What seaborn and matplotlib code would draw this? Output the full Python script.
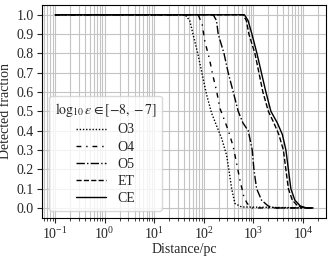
import numpy as np
import pandas as pd
import matplotlib
matplotlib.use("Agg")
import matplotlib.pyplot as plt
import seaborn as sns

# detection fraction vs distance
o3_dist = [0.1, 42, 52, 61, 77, 93, 114, 144, 168, 229, 288, 325, 364, 424, 578, 16000]
o3_frac = [1.0, 1.0, 0.97, 0.896, 0.79, 0.69, 0.585, 0.49, 0.446, 0.36, 0.273, 0.187, 0.10, 0.023, 0.005, 0.0]

o4_dist = [0.1, 77, 93, 105, 129, 151, 182, 211, 310, 392, 459, 535, 643, 750, 930, 16000]
o4_frac = [1.0, 1.0, 0.948, 0.861, 0.775, 0.689, 0.602, 0.516, 0.403, 0.317, 0.23, 0.144, 0.057, 0.023, 0.0, 0.0]

o5_dist = [0.1, 155, 180, 195, 255, 310, 392, 494, 614, 785, 946, 1023, 1159, 1462, 1986, 2690, 16000]
o5_frac = [1.0, 1.0, 0.97, 0.9, 0.8, 0.7, 0.6, 0.5, 0.44, 0.4, 0.3, 0.2, 0.1, 0.04, 0.01, 0.0, 0.0]

et_dist = [0.1, 618, 720, 811, 1072, 1291, 1552, 2004, 2588, 3258, 4018, 4508, 5070, 6095, 7870, 11000, 16000]
et_frac = [1.0, 1.0, 0.97, 0.9, 0.8, 0.7, 0.6, 0.5, 0.44, 0.38, 0.3, 0.2, 0.1, 0.04, 0.01, 0.0, 0.0]

ce_dist = [0.1, 658, 780, 933, 1178, 1449, 1786, 2254, 3041, 3837, 4519, 5070, 5689, 6855, 8850, 11750, 16000]
ce_frac = [1.0, 1.0, 0.97, 0.9, 0.8, 0.7, 0.6, 0.5, 0.44, 0.38, 0.3, 0.2, 0.1, 0.04, 0.01, 0.0, 0.0]

detectors = ["O3", "O4", "O5", "ET", "CE"]

frames = []
for name, d, f in zip(detectors,
                      [o3_dist, o4_dist, o5_dist, et_dist, ce_dist],
                      [o3_frac, o4_frac, o5_frac, et_frac, ce_frac]):
    frames.append(pd.DataFrame({"distance": d, "fraction": f, "detector": name}))
df = pd.concat(frames, ignore_index=True)

sns.set_theme(style="ticks")
plt.rcParams["font.family"] = ["Liberation Serif", "DejaVu Serif"]
plt.rcParams["mathtext.fontset"] = "stix"
plt.rcParams["font.size"] = 10

fig = plt.figure(figsize=(3.32, 2.56), dpi=100)
ax = fig.add_axes([0.127, 0.150, 0.855, 0.830])

dashes = {
    "O3": (1, 1.3),
    "O4": (3.5, 3.5, 1, 3.5),
    "O5": (6, 1.6, 1, 1.6),
    "ET": (3.7, 1.6),
    "CE": "",
}

sns.lineplot(data=df, x="distance", y="fraction", style="detector",
             dashes=dashes, color="black", linewidth=1.0,
             sort=False, estimator=None, ax=ax)

ax.set_xscale("log")
ax.set_yticks(np.arange(0, 1.01, 0.1))
ax.set_yticklabels([f"{v:.1f}" for v in np.arange(0, 1.01, 0.1)])
ax.grid(which="both", axis="x", color="#c4c4c4", linewidth=0.8)
ax.grid(which="major", axis="y", color="#c4c4c4", linewidth=0.8)
ax.set_axisbelow(True)
ax.tick_params(labelsize=10, length=3.5, width=0.8, pad=2.5)
ax.tick_params(which="minor", length=2, width=0.6)
for s in ax.spines.values():
    s.set_linewidth(0.8)
    s.set_color("black")

ax.set_xlabel("Distance/pc", fontsize=10, labelpad=1)
ax.set_ylabel("Detected fraction", fontsize=10, labelpad=3)

leg = ax.legend(title=r"$\log_{10}\varepsilon \in [-8, -7]$", loc="lower left",
                fontsize=10, title_fontsize=10, handlelength=2.2,
                borderpad=0.4, labelspacing=0.3, fancybox=True, framealpha=0.8)
leg.get_frame().set_edgecolor("#d0d0d0")

fig.savefig("out.png", dpi=100)
